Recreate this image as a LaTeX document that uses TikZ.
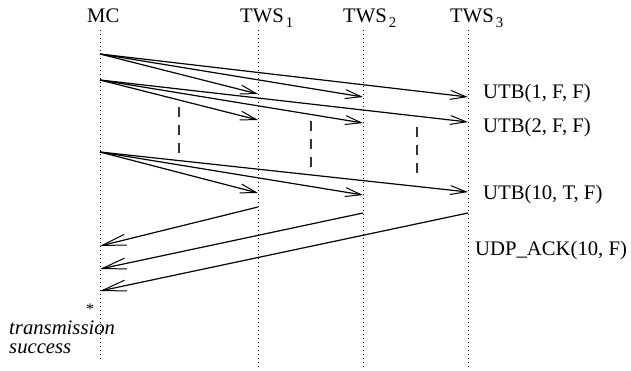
\documentclass[tikz,border=0pt]{standalone}
\usepackage{fontspec}
\setmainfont{Liberation Serif}
\usetikzlibrary{arrows.meta}
\begin{document}
\begin{tikzpicture}[x=1pt,y=-1pt,
  font=\fontsize{20.7}{24}\selectfont,
  lbl/.style={anchor=base west,inner sep=0pt},
  life/.style={line width=1pt,dash pattern=on 1pt off 3pt},
  msg/.style={line width=1.2pt,-{Straight Barb[length=16pt,width=9pt,line width=1pt]}},
  ret/.style={line width=1.2pt,-{Straight Barb[length=24pt,width=11pt,line width=1pt]}},
  gapline/.style={line width=1.3pt,dash pattern=on 10pt off 8pt,black!80}]
\useasboundingbox (0,0) rectangle (631,371);
% headers
\node[lbl] (mc) at (87,23) {MC};
\node[lbl] (t1) at (240,23) {TWS\hspace{2pt}\raisebox{-5pt}{\fontsize{14.8}{15}\selectfont 1}};
\node[lbl] (t2) at (343,23) {TWS\hspace{2pt}\raisebox{-5pt}{\fontsize{14.8}{15}\selectfont 2}};
\node[lbl] (t3) at (450,23) {TWS\hspace{2pt}\raisebox{-5pt}{\fontsize{14.8}{15}\selectfont 3}};
% lifelines
\coordinate (mcA) at (100,30);  \coordinate (mcZ) at (100,362);
\coordinate (t1A) at (258,30);  \coordinate (t1Z) at (258,368);
\coordinate (t2A) at (363,30);  \coordinate (t2Z) at (363,368);
\coordinate (t3A) at (468,30);  \coordinate (t3Z) at (468,368);
\draw[life] (mcA) -- (mcZ);
\draw[life] (t1A) -- (t1Z);
\draw[life] (t2A) -- (t2Z);
\draw[life] (t3A) -- (t3Z);
% group 1
\coordinate (s1) at (100,54);
\coordinate (e11) at (258,94);
\coordinate (e12) at (363,97);
\coordinate (e13) at (468,97);
\draw[msg] (s1) -- (e11);
\draw[msg] (s1) -- (e12);
\draw[msg] (s1) -- (e13);
% group 2
\coordinate (s2) at (100,80);
\coordinate (e21) at (258,120);
\coordinate (e22) at (363,123);
\coordinate (e23) at (468,122);
\draw[msg] (s2) -- (e21);
\draw[msg] (s2) -- (e22);
\draw[msg] (s2) -- (e23);
% group 3
\coordinate (s3) at (100,152);
\coordinate (e31) at (258,193);
\coordinate (e32) at (363,195);
\coordinate (e33) at (468,192);
\draw[msg] (s3) -- (e31);
\draw[msg] (s3) -- (e32);
\draw[msg] (s3) -- (e33);
% returns
\coordinate (r1) at (258,207); \coordinate (q1) at (100,246);
\coordinate (r2) at (363,213); \coordinate (q2) at (100,269);
\coordinate (r3) at (468,213); \coordinate (q3) at (100,291);
\draw[ret] (r1) -- (q1);
\draw[ret] (r2) -- (q2);
\draw[ret] (r3) -- (q3);
% gap markers
\coordinate (g1a) at (179,107); \coordinate (g1b) at (179,153);
\coordinate (g2a) at (311,121); \coordinate (g2b) at (311,167);
\coordinate (g3a) at (417,127); \coordinate (g3b) at (417,173);
\draw[gapline] (g1a) -- (g1b);
\draw[gapline] (g2a) -- (g2b);
\draw[gapline] (g3a) -- (g3b);
% message labels
\node[lbl] (m1) at (483,99) {UTB(1, F, F)};
\node[lbl] (m2) at (483,133) {UTB(2, F, F)};
\node[lbl] (m3) at (483,200) {UTB(10, T, F)};
\node[lbl] (m4) at (475,255) {UDP\_ACK(10, F)};
% success
\node[anchor=base,inner sep=0pt,font=\fontsize{16}{16}\selectfont] (star) at (90,314) {*};
\node[lbl,font=\fontsize{20.7}{24}\selectfont\itshape] (tx) at (9,334) {transmission};
\node[lbl,font=\fontsize{20.7}{24}\selectfont\itshape] (sx) at (9,353) {success};
\end{tikzpicture}
\end{document}
